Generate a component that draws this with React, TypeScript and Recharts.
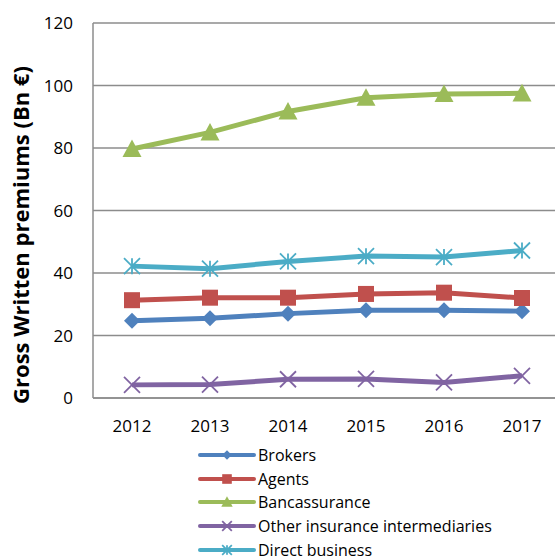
import React from 'react';
import { LineChart, Line, XAxis, YAxis, CartesianGrid, Legend, Label } from 'recharts';

const years = ['2012', '2013', '2014', '2015', '2016', '2017'];
const brokers = [24.7, 25.5, 27.0, 28.1, 28.1, 27.8];
const agents = [31.3, 32.1, 32.1, 33.3, 33.7, 32.0];
const bancassurance = [79.7, 85.0, 91.7, 96.1, 97.3, 97.5];
const otherIntermediaries = [4.2, 4.3, 6.0, 6.1, 5.0, 7.1];
const directBusiness = [42.2, 41.4, 43.7, 45.4, 45.1, 47.2];
const yTicks = [0, 20, 40, 60, 80, 100, 120];

const FONT = '"Open Sans", "Noto Sans", sans-serif';
const GRID = '#8c8c8c';

type MarkerKind = 'diamond' | 'square' | 'triangle' | 'x' | 'star';

const series: { key: string; name: string; color: string; marker: MarkerKind; values: number[] }[] = [
  { key: 'brokers', name: 'Brokers', color: '#4F81BD', marker: 'diamond', values: brokers },
  { key: 'agents', name: 'Agents', color: '#C0504D', marker: 'square', values: agents },
  { key: 'banc', name: 'Bancassurance', color: '#9BBB59', marker: 'triangle', values: bancassurance },
  { key: 'other', name: 'Other insurance intermediaries', color: '#8064A2', marker: 'x', values: otherIntermediaries },
  { key: 'direct', name: 'Direct business', color: '#4BACC6', marker: 'star', values: directBusiness },
];

const data = years.map((year, i) => {
  const row: Record<string, any> = { year };
  series.forEach(s => {
    row[s.key] = s.values[i];
  });
  return row;
});

const Marker = ({ cx, cy, kind, color, scale = 1 }: { cx: number; cy: number; kind: MarkerKind; color: string; scale?: number }) => {
  const r = 8 * scale;
  switch (kind) {
    case 'diamond':
      return <polygon points={`${cx},${cy - r} ${cx + r},${cy} ${cx},${cy + r} ${cx - r},${cy}`} fill={color} />;
    case 'square':
      return <rect x={cx - r} y={cy - r} width={2 * r} height={2 * r} fill={color} />;
    case 'triangle': {
      const h = 9.5 * scale;
      return <polygon points={`${cx},${cy - h} ${cx + h},${cy + h * 0.85} ${cx - h},${cy + h * 0.85}`} fill={color} />;
    }
    case 'x':
      return (
        <g stroke={color} strokeWidth={1.8}>
          <line x1={cx - r} y1={cy - r} x2={cx + r} y2={cy + r} />
          <line x1={cx - r} y1={cy + r} x2={cx + r} y2={cy - r} />
        </g>
      );
    case 'star':
      return (
        <g stroke={color} strokeWidth={1.8}>
          <line x1={cx - r} y1={cy - r} x2={cx + r} y2={cy + r} />
          <line x1={cx - r} y1={cy + r} x2={cx + r} y2={cy - r} />
          <line x1={cx} y1={cy - r} x2={cx} y2={cy + r} />
        </g>
      );
  }
  return null;
};

const renderLegend = () => (
  <div style={{ height: 114, fontFamily: FONT, fontSize: 16, color: '#000' }}>
    {series.map(s => (
      <div key={s.key} style={{ display: 'flex', alignItems: 'center', height: 23.8, whiteSpace: 'nowrap' }}>
        <svg width={58} height={20}>
          <line x1={2} y1={10} x2={56} y2={10} stroke={s.color} strokeWidth={4} strokeLinecap="round" />
          <Marker cx={29} cy={10} kind={s.marker} color={s.color} scale={0.6} />
        </svg>
        <span style={{ marginLeft: 2 }}>{s.name}</span>
      </div>
    ))}
  </div>
);

const App = () => {
  return (
    <div style={{ position: 'absolute', left: 0, top: 0, width: 555, height: 557, overflow: 'hidden', background: '#fff' }}>
      <LineChart width={561} height={557} data={data} margin={{ top: 23, right: 0, left: 0, bottom: 0 }}>
        <CartesianGrid vertical={false} stroke={GRID} strokeWidth={1.5} />
        <XAxis
          dataKey="year"
          height={45}
          padding={{ left: 39, right: 39 }}
          tickLine={false}
          tickSize={0}
          tickMargin={22}
          axisLine={{ stroke: GRID, strokeWidth: 1.5 }}
          tick={{ fill: '#000', fontSize: 17, fontFamily: FONT }}
        />
        <YAxis
          width={93}
          domain={[0, 120]}
          ticks={yTicks}
          tickLine={false}
          tickSize={0}
          tickMargin={20}
          axisLine={{ stroke: GRID, strokeWidth: 1.5 }}
          tick={{ fill: '#000', fontSize: 17, fontFamily: FONT }}
        >
          <Label
            content={() => (
              <text
                transform="translate(29,235) rotate(-90)"
                textAnchor="middle"
                fontFamily={FONT}
                fontWeight="bold"
                fontSize={22}
                fill="#000"
              >
                Gross Written premiums (Bn €)
              </text>
            )}
          />
        </YAxis>
        <Legend
          layout="horizontal"
          verticalAlign="bottom"
          align="left"
          content={renderLegend}
          wrapperStyle={{ left: 198, width: 320 }}
        />
        {series.map(s => (
          <Line
            key={s.key}
            dataKey={s.key}
            name={s.name}
            stroke={s.color}
            strokeWidth={5}
            isAnimationActive={false}
            dot={(p: any) => <Marker key={`${s.key}-${p.index}`} cx={p.cx} cy={p.cy} kind={s.marker} color={s.color} />}
            activeDot={false}
          />
        ))}
      </LineChart>
    </div>
  );
};

export default App;
